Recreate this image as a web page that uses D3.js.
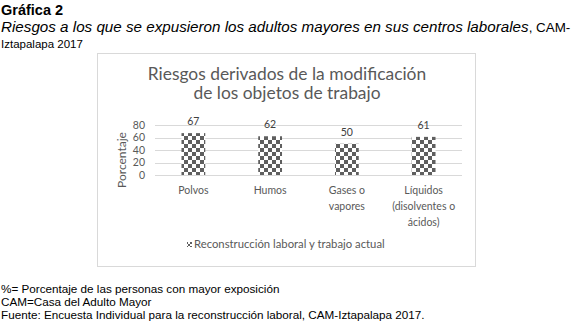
<!DOCTYPE html>
<html>
<head>
<meta charset="utf-8">
<script src="https://cdn.jsdelivr.net/npm/d3@7"></script>
<style>
  html, body { margin: 0; padding: 0; background: #fff; }
  svg { display: block; }
</style>
</head>
<body>
<svg id="chart" width="574" height="324"></svg>
<script>
// Risk categories and share of people with highest exposure (%)
const categories = ["Polvos", "Humos", "Gases o vapores", "Líquidos (disolventes o ácidos)"];
const categoryLines = [["Polvos"], ["Humos"], ["Gases o", "vapores"], ["Líquidos", "(disolventes o", "ácidos)"]];
const values = [67, 62, 50, 61];
const yTicks = [0, 20, 40, 60, 80];
const seriesName = "Reconstrucción laboral y trabajo actual";
const chartTitle = ["Riesgos derivados de la modificación", "de los objetos de trabajo"];
const footnotes = [
  "%= Porcentaje de las personas con mayor exposición",
  "CAM=Casa del Adulto Mayor",
  "Fuente: Encuesta Individual para la reconstrucción laboral, CAM-Iztapalapa 2017."
];

const svg = d3.select("#chart");
const chartFont = "Lato, 'Open Sans', sans-serif";
const docFont = "Arial, 'Liberation Sans', sans-serif";

// Checkerboard fill for the bars
const defs = svg.append("defs");
const pat = defs.append("pattern")
  .attr("id", "checker").attr("patternUnits", "userSpaceOnUse")
  .attr("width", 8).attr("height", 8);
pat.append("rect").attr("width", 8).attr("height", 8).attr("fill", "#fff");
pat.append("rect").attr("width", 4).attr("height", 4).attr("fill", "#5f5f5f");
pat.append("rect").attr("x", 4).attr("y", 4).attr("width", 4).attr("height", 4).attr("fill", "#5f5f5f");

const pat2 = defs.append("pattern")
  .attr("id", "checkerSmall").attr("patternUnits", "userSpaceOnUse")
  .attr("width", 4).attr("height", 4);
pat2.append("rect").attr("width", 4).attr("height", 4).attr("fill", "#fff");
pat2.append("rect").attr("width", 2).attr("height", 2).attr("fill", "#5f5f5f");
pat2.append("rect").attr("x", 2).attr("y", 2).attr("width", 2).attr("height", 2).attr("fill", "#5f5f5f");

// Document heading
svg.append("text").attr("x", 1).attr("y", 15)
  .attr("font-family", docFont).attr("font-weight", "bold").attr("font-size", 14.5)
  .attr("fill", "#000").text("Gráfica 2");
const sub = svg.append("text").attr("x", 1).attr("y", 32)
  .attr("font-family", docFont).attr("fill", "#000");
sub.append("tspan").attr("font-style", "italic").attr("font-size", 15.2)
  .text("Riesgos a los que se expusieron los adultos mayores en sus centros laborales");
sub.append("tspan").attr("font-size", 13.4).text(", CAM-");
svg.append("text").attr("x", 1).attr("y", 48)
  .attr("font-family", docFont).attr("font-size", 11.5).attr("fill", "#000")
  .text("Iztapalapa 2017");

// Chart frame
svg.append("rect").attr("x", 97.5).attr("y", 53.5).attr("width", 378).attr("height", 213)
  .attr("fill", "#fff").attr("stroke", "#d9d9d9").attr("stroke-width", 1);

// Chart title
svg.append("g").selectAll("text").data(chartTitle).join("text")
  .attr("x", 287).attr("y", (d, i) => 80 + i * 19)
  .attr("text-anchor", "middle")
  .attr("font-family", chartFont).attr("font-size", 17.4).attr("fill", "#595959")
  .text(d => d);

// Scales
const x = d3.scaleBand().domain(categories).range([155, 462]).paddingInner(0.69).paddingOuter(0.345);
const y = d3.scaleLinear().domain([0, 80]).range([175, 125]);

// Gridlines
svg.append("g").selectAll("line").data(yTicks).join("line")
  .attr("x1", 155).attr("x2", 462)
  .attr("y1", d => Math.round(y(d)) + 0.5).attr("y2", d => Math.round(y(d)) + 0.5)
  .attr("stroke", "#d9d9d9").attr("stroke-width", 1);

// Y axis tick labels
const yAxis = svg.append("g").attr("transform", "translate(145,0)")
  .call(d3.axisLeft(y).tickValues(yTicks).tickSize(0).tickPadding(0));
yAxis.select(".domain").remove();
yAxis.selectAll("text").attr("font-family", chartFont).attr("font-size", 10.5).attr("fill", "#595959");

// Y axis title
svg.append("text")
  .attr("transform", "translate(126,160) rotate(-90)")
  .attr("text-anchor", "middle")
  .attr("font-family", chartFont).attr("font-size", 12).attr("fill", "#595959")
  .text("Porcentaje");

// Bars
svg.append("g").selectAll("rect").data(values).join("rect")
  .attr("x", (d, i) => x(categories[i]))
  .attr("y", d => y(d))
  .attr("width", x.bandwidth())
  .attr("height", d => y(0) - y(d))
  .attr("fill", "url(#checker)");

// Value labels
svg.append("g").selectAll("text").data(values).join("text")
  .attr("x", (d, i) => x(categories[i]) + x.bandwidth() / 2)
  .attr("y", d => y(d) - 8)
  .attr("text-anchor", "middle")
  .attr("font-family", chartFont).attr("font-size", 10.5).attr("fill", "#404040")
  .text(d => d);

// Category labels
const cat = svg.append("g").selectAll("text").data(categories).join("text")
  .attr("text-anchor", "middle")
  .attr("font-family", chartFont).attr("font-size", 10.5).attr("fill", "#595959");
cat.each(function(d, i) {
  d3.select(this).selectAll("tspan").data(categoryLines[i]).join("tspan")
    .attr("x", x(d) + x.bandwidth() / 2)
    .attr("y", (t, j) => 194 + j * 16)
    .text(t => t);
});

// Legend
svg.append("rect").attr("x", 187).attr("y", 242).attr("width", 5).attr("height", 5)
  .attr("fill", "url(#checkerSmall)");
svg.append("text").attr("x", 194).attr("y", 248)
  .attr("font-family", chartFont).attr("font-size", 11.3).attr("fill", "#595959")
  .text(seriesName);

// Footnotes
svg.append("g").selectAll("text").data(footnotes).join("text")
  .attr("x", 1).attr("y", (d, i) => 293 + i * 13)
  .attr("font-family", docFont).attr("font-size", 11.7).attr("fill", "#000")
  .text(d => d);
</script>
</body>
</html>
